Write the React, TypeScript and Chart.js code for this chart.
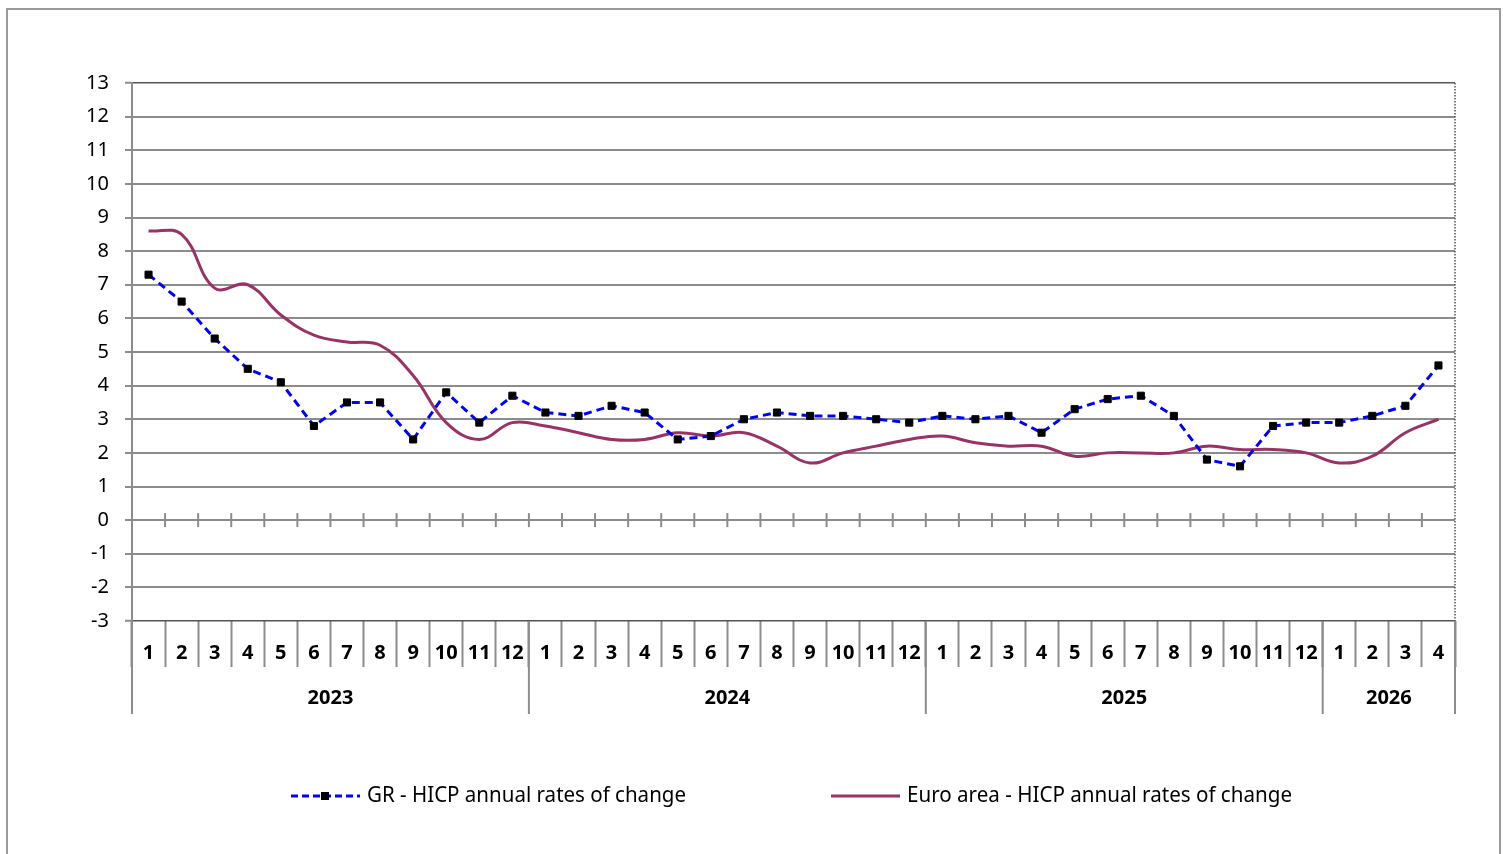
import React, { useEffect, useRef } from 'react';
import { Chart, registerables } from 'chart.js';

Chart.register(...registerables);

const monthLabels = [
  '1', '2', '3', '4', '5', '6', '7', '8', '9', '10', '11', '12',
  '1', '2', '3', '4', '5', '6', '7', '8', '9', '10', '11', '12',
  '1', '2', '3', '4', '5', '6', '7', '8', '9', '10', '11', '12',
  '1', '2', '3', '4',
];
const years = ['2023', '2024', '2025', '2026'];
const monthsPerYear = [12, 12, 12, 4];

const grValues = [
  7.3, 6.5, 5.4, 4.5, 4.1, 2.8, 3.5, 3.5, 2.4, 3.8, 2.9, 3.7,
  3.2, 3.1, 3.4, 3.2, 2.4, 2.5, 3.0, 3.2, 3.1, 3.1, 3.0, 2.9,
  3.1, 3.0, 3.1, 2.6, 3.3, 3.6, 3.7, 3.1, 1.8, 1.6, 2.8, 2.9,
  2.9, 3.1, 3.4, 4.6,
];
const euroValues = [
  8.6, 8.5, 6.9, 7.0, 6.1, 5.5, 5.3, 5.2, 4.3, 2.9, 2.4, 2.9,
  2.8, 2.6, 2.4, 2.4, 2.6, 2.5, 2.6, 2.2, 1.7, 2.0, 2.2, 2.4,
  2.5, 2.3, 2.2, 2.2, 1.9, 2.0, 2.0, 2.0, 2.2, 2.1, 2.1, 2.0,
  1.7, 1.9, 2.6, 3.0,
];
const yMin = -3;
const yMax = 13;

const grLabel = 'GR - HICP annual rates of change';
const euroLabel = 'Euro area - HICP annual rates of change';

const FONT = '"Noto Sans", "DejaVu Sans", sans-serif';
const GRID = '#8c8c8c';
const GR_COLOR = '#0000ff';
const EURO_COLOR = '#993366';
const W = 1497;
const H = 846;

const extrasPlugin = {
  id: 'extras',
  afterDraw(chart: any) {
    const ctx = chart.ctx;
    const { left, right, top, bottom } = chart.chartArea;
    const yScale = chart.scales.y;
    const n = monthLabels.length;
    const cw = (right - left) / n;
    const line = (x1: number, y1: number, x2: number, y2: number) => {
      ctx.beginPath();
      ctx.moveTo(x1, y1);
      ctx.lineTo(x2, y2);
      ctx.stroke();
    };
    ctx.save();
    // right dotted border of plot area
    ctx.strokeStyle = '#555';
    ctx.lineWidth = 1.5;
    ctx.setLineDash([1.5, 1.5]);
    line(right, top, right, bottom);
    ctx.setLineDash([]);
    // zero-axis tick marks
    const y0 = yScale.getPixelForValue(0);
    ctx.strokeStyle = GRID;
    ctx.lineWidth = 2;
    for (let i = 1; i < n; i++) {
      const b = left + i * cw;
      line(b, y0 - 7, b, y0 + 7);
    }
    // year separators and labels
    let start = 0;
    const bounds = [0];
    monthsPerYear.forEach((m) => {
      start += m;
      bounds.push(start);
    });
    bounds.forEach((b) => {
      const x = left + b * cw;
      line(x, bottom, x, bottom + 93);
    });
    ctx.fillStyle = '#000';
    ctx.font = 'bold 20px ' + FONT;
    ctx.textAlign = 'center';
    ctx.textBaseline = 'middle';
    years.forEach((yr, i) => {
      const xa = left + bounds[i] * cw;
      const xb = left + bounds[i + 1] * cw;
      ctx.fillText(yr, (xa + xb) / 2, bottom + 77);
    });
    // legend
    const ly = 788;
    ctx.strokeStyle = GR_COLOR;
    ctx.lineWidth = 3;
    ctx.setLineDash([7, 4]);
    line(285, ly, 354, ly);
    ctx.setLineDash([]);
    ctx.fillStyle = '#000';
    ctx.fillRect(315, ly - 4, 8, 8);
    ctx.strokeStyle = EURO_COLOR;
    ctx.lineWidth = 3;
    line(825, ly, 894, ly);
    ctx.fillStyle = '#000';
    ctx.font = '21px ' + FONT;
    ctx.textAlign = 'left';
    ctx.textBaseline = 'middle';
    ctx.fillText(grLabel, 361, ly, 319);
    ctx.fillText(euroLabel, 901, ly, 385);
    ctx.restore();
  },
};

export default function App() {
  const ref = useRef<HTMLCanvasElement | null>(null);
  useEffect(() => {
    if (!ref.current) return;
    const isEdge = (c: any) => c.tick && (c.tick.value === yMax || c.tick.value === yMin);
    const chart = new Chart(ref.current, {
      type: 'line',
      data: {
        labels: monthLabels,
        datasets: [
          {
            label: grLabel,
            data: grValues,
            borderColor: GR_COLOR,
            borderWidth: 3,
            borderDash: [8, 5],
            pointStyle: 'rect',
            pointRadius: 5,
            pointBackgroundColor: '#000',
            pointBorderColor: '#000',
            pointBorderWidth: 1,
            tension: 0,
            fill: false,
          },
          {
            label: euroLabel,
            data: euroValues,
            borderColor: EURO_COLOR,
            borderWidth: 3,
            pointRadius: 0,
            tension: 0.4,
            fill: false,
          },
        ],
      },
      options: {
        responsive: false,
        animation: false,
        devicePixelRatio: 1,
        layout: { padding: { left: 0, top: 75, right: 48, bottom: 0 } },
        plugins: {
          legend: { display: false },
          tooltip: { enabled: false },
          title: { display: false },
        },
        scales: {
          x: {
            type: 'category',
            offset: true,
            grid: {
              offset: true,
              drawOnChartArea: false,
              drawTicks: true,
              tickLength: 46,
              tickColor: GRID,
              tickWidth: 2,
            },
            border: { display: false },
            ticks: {
              autoSkip: false,
              maxRotation: 0,
              minRotation: 0,
              padding: -26,
              color: '#000',
              font: { family: FONT, size: 20, weight: 'bold' },
            },
            afterFit: (s: any) => {
              s.height = H - 613;
            },
          },
          y: {
            min: yMin,
            max: yMax,
            ticks: {
              stepSize: 1,
              padding: 16,
              color: '#000',
              font: { family: FONT, size: 20 },
            },
            grid: {
              color: (c: any) => (isEdge(c) ? '#555' : GRID),
              lineWidth: (c: any) => (isEdge(c) ? 1.5 : 2),
              borderDash: (c: any) => (isEdge(c) ? [1.5, 1.5] : []),
              tickColor: GRID,
              tickWidth: 2,
              tickLength: 7,
            },
            border: { display: true, color: GRID, width: 2 },
            afterFit: (s: any) => {
              s.width = 126;
            },
          },
        },
      } as any,
      plugins: [extrasPlugin],
    });
    return () => chart.destroy();
  }, []);
  return (
    <div>
      <div
        style={{
          position: 'fixed',
          left: 6,
          top: 8,
          width: 1495,
          height: 900,
          boxSizing: 'border-box',
          border: '2px solid #9a9a9a',
          pointerEvents: 'none',
        }}
      />
      <div style={{ position: 'fixed', left: 6, top: 8, width: W, height: H }}>
        <canvas ref={ref} width={W} height={H} style={{ display: 'block' }} />
      </div>
    </div>
  );
}
